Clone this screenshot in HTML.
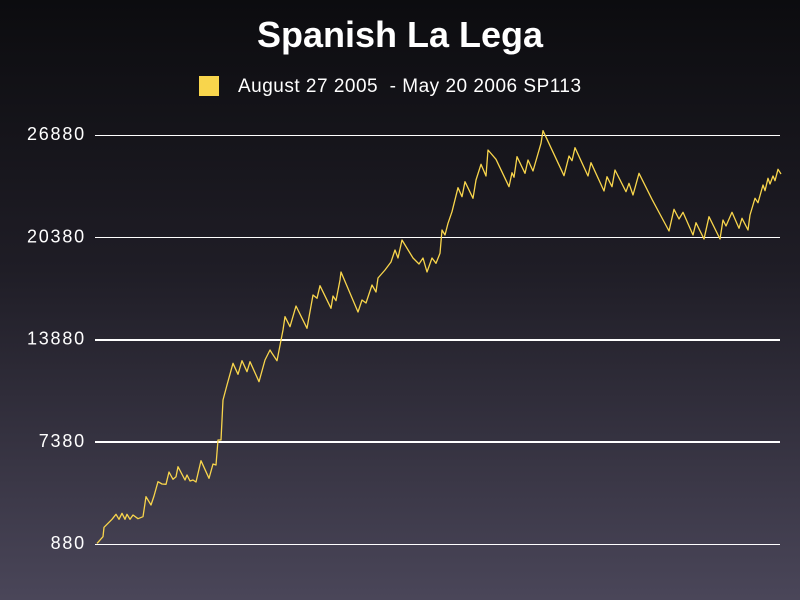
<!DOCTYPE html>
<html><head><meta charset="utf-8">
<style>
html,body{margin:0;padding:0;}
body{width:800px;height:600px;overflow:hidden;background:linear-gradient(#0c0c0f 0%,#1f1d26 45%,#4a4659 100%);font-family:"Liberation Sans",sans-serif;}
svg{display:block;}
</style></head>
<body>
<svg id="chart" width="800" height="600" xmlns="http://www.w3.org/2000/svg">
  <text x="400" y="47" text-anchor="middle" fill="#fff" font-family="Liberation Sans, sans-serif" font-weight="bold" font-size="36">Spanish La Lega</text>
  <rect x="199" y="76" width="20" height="20" fill="#f8d54c"/>
  <text x="238" y="92" fill="#fff" font-family="Liberation Sans, sans-serif" font-size="19" letter-spacing="0.5" xml:space="preserve">August 27 2005  - May 20 2006 SP113</text>
  <g id="grid"></g>
  <g id="series"></g>
</svg>
<script>
const yTicks = [880, 7380, 13880, 20380, 26880];
const yTickWidths = [1, 2, 2, 1, 1];
const steps = [2,8,9,17,21,24,27,30,32,35,38,43,48,51,56,59,63,67,71,74,78,81,83,90,92,95,98,101,106,114,118,121,123,126,128,132,138,143,147,152,155,164,170,175,177,182,188,190,195,201,212,218,222,225,236,238,241,245,246,263,267,271,277,281,283,290,296,300,303,307,318,322,324,328,332,337,341,345,347,350,353,357,363,367,370,378,381,386,391,393,401,414,417,419,422,430,433,438,446,448,469,474,477,480,493,496,509,512,517,520,531,534,538,544,557,574,579,584,588,598,601,609,614,625,628,631,637,644,647,653,655,660,663,668,670,673,675,678,680,683,686];
const values = [920,1344,1942,2450,2768,2450,2832,2450,2768,2450,2724,2488,2615,3887,3359,3931,4840,4694,4675,5457,4993,5158,5794,4948,5266,4885,4948,4821,6175,5057,5966,5902,7491,7491,10034,10988,12367,11668,12532,11833,12469,11198,12577,13213,13003,12532,14484,15330,14694,16010,14592,16709,16499,17300,15863,16645,16347,17662,18171,15628,16391,16200,17345,16900,17790,18298,18807,19570,19061,20205,19061,18807,18680,19061,18171,19061,18724,19360,20841,20523,21267,22004,23530,22958,23911,22856,24019,25017,24274,25927,25335,23594,24484,24191,25501,24445,25291,24592,26353,27154,24293,25545,25246,26073,24274,25119,23320,24229,23594,24655,23276,23810,23066,24445,22793,20777,22157,21540,21966,20523,21305,20269,21687,20269,21477,21095,21966,20949,21585,20841,21795,22856,22577,23702,23339,24127,23765,24274,23975,24700,24401];

const X0 = 95, X1 = 780, Y0 = 544, Y1 = 135;
const stepMax = 685;
function xScale(s){ return X0 + s / stepMax * (X1 - X0); }
function yScale(v){ return Y0 - (v - 880) / (26880 - 880) * (Y0 - Y1); }
const NS = "http://www.w3.org/2000/svg";
const grid = document.getElementById('grid');
yTicks.forEach((t, i) => {
  const y = Math.round(yScale(t)) + (yTickWidths[i] === 1 ? 0.5 : 0);
  const ln = document.createElementNS(NS, 'line');
  
  
  ln.setAttribute('x1', X0); ln.setAttribute('x2', X1);
  ln.setAttribute('y1', y); ln.setAttribute('y2', y);
  ln.setAttribute('stroke', '#fff'); ln.setAttribute('stroke-width', yTickWidths[i]);
  grid.appendChild(ln);
  const tx = document.createElementNS(NS, 'text');
  
  
  tx.setAttribute('x', 86); tx.setAttribute('y', yScale(t) + 5);
  tx.setAttribute('text-anchor', 'end'); tx.setAttribute('fill', '#fff');
  tx.setAttribute('font-size', '18'); tx.setAttribute('letter-spacing', '1.8');
  tx.setAttribute('font-family', 'Liberation Sans, sans-serif');
  tx.textContent = t;
  grid.appendChild(tx);
});
const d = steps.map((s, i) => (i ? 'L' : 'M') + xScale(s).toFixed(1) + ' ' + yScale(values[i]).toFixed(1)).join(' ');
const path = document.createElementNS(NS, 'path');


path.setAttribute('d', d);
path.setAttribute('fill', 'none'); path.setAttribute('stroke', '#f8d54c');
path.setAttribute('stroke-width', '1.3'); path.setAttribute('stroke-linejoin', 'round');
document.getElementById('series').appendChild(path);
</script>
</body></html>
